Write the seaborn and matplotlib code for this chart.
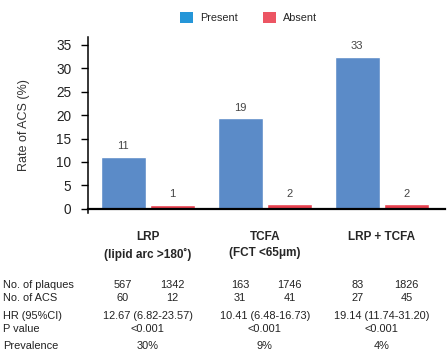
import numpy as np
import pandas as pd
import matplotlib
matplotlib.use("Agg")
import matplotlib.pyplot as plt
import matplotlib.transforms as mtransforms
from matplotlib.patches import Patch
import seaborn as sns

# values
groups = ["LRP", "TCFA", "LRP + TCFA"]
group_sub = ["(lipid arc >180˚)", "(FCT <65μm)", ""]
present = [11.1, 19.3, 32.5]
absent = [0.9, 1.0, 1.0]
present_lbl = ["11", "19", "33"]
absent_lbl = ["1", "2", "2"]

plaques_present = [567, 163, 83]
plaques_absent = [1342, 1746, 1826]
acs_present = [60, 31, 27]
acs_absent = [12, 41, 45]
hr = ["12.67 (6.82-23.57)", "10.41 (6.48-16.73)", "19.14 (11.74-31.20)"]
pval = ["<0.001", "<0.001", "<0.001"]
prevalence = ["30%", "9%", "4%"]

df = pd.DataFrame({
    "group": groups * 2,
    "status": ["Present"] * 3 + ["Absent"] * 3,
    "rate": present + absent,
})

sns.set_style("white")
plt.rcParams["font.family"] = ["Liberation Sans", "DejaVu Sans"]

bar_colors = {"Present": "#5b8bc8", "Absent": "#e8414f"}
legend_colors = {"Present": "#2596d8", "Absent": "#ec5563"}

fig = plt.figure(figsize=(4.47, 3.56), dpi=100)
ax = fig.add_axes([88 / 447, 1 - 213 / 356, 357 / 447, (213 - 37) / 356])

sns.barplot(data=df, x="group", y="rate", hue="status", palette=bar_colors,
            width=0.84, gap=0.08, saturation=1, legend=False, ax=ax)

ax.set_xlim(-0.51, 2.54)
ax.set_ylim(-0.9, 36.7)
ax.set_yticks(range(0, 36, 5))
ax.spines["bottom"].set_position(("data", 0))
ax.spines["bottom"].set_linewidth(1.6)
ax.spines["left"].set_linewidth(1.1)
for s in ["top", "right"]:
    ax.spines[s].set_visible(False)
for s in ["left", "bottom"]:
    ax.spines[s].set_color("black")

ax.tick_params(axis="y", length=5, width=1, color="black", labelsize=9.8, pad=7,
               left=True, labelcolor="#222")
ax.tick_params(axis="x", length=0, pad=16)
ax.set_xticks(range(len(groups)))
ax.set_xticklabels([g + ("\n" + s if s else "") for g, s in zip(groups, group_sub)],
                   fontsize=8.5, fontweight="bold", linespacing=1.45)
for t in ax.get_xticklabels():
    t.set_verticalalignment("top")
ax.set_xlabel("")
ax.set_ylabel("Rate of ACS (%)", fontsize=9, color="#333", labelpad=19)

ax.bar_label(ax.containers[0], labels=present_lbl, padding=4, fontsize=8, color="#444")
ax.bar_label(ax.containers[1], labels=absent_lbl, padding=4, fontsize=8, color="#444")

handles = [Patch(facecolor=legend_colors[k], edgecolor="none", label=k) for k in ["Present", "Absent"]]
fig.legend(handles=handles, loc="center", bbox_to_anchor=(0.556, 0.95), ncol=2, frameon=False,
           fontsize=7.8, handlelength=1.2, handleheight=1.2, handletextpad=0.7, columnspacing=2.3)

# table under the chart
tr = mtransforms.blended_transform_factory(ax.transData, fig.transFigure)
pres_x = [b.get_x() + b.get_width() / 2 for b in ax.containers[0]]
abs_x = [b.get_x() + b.get_width() / 2 for b in ax.containers[1]]
grp_x = [(a + b) / 2 for a, b in zip(pres_x, abs_x)]

row_y = {"No. of plaques": 285, "No. of ACS": 298, "HR (95%CI)": 316,
         "P value": 329, "Prevalence": 346}
tkw = dict(fontsize=7.9, color="#222", va="center")
for name, py in row_y.items():
    fig.text(3 / 447, 1 - py / 356, name, ha="left", **tkw)

def yy(name):
    return 1 - row_y[name] / 356

for i in range(3):
    fig.text(pres_x[i], yy("No. of plaques"), str(plaques_present[i]), ha="center", transform=tr, **tkw)
    fig.text(abs_x[i], yy("No. of plaques"), str(plaques_absent[i]), ha="center", transform=tr, **tkw)
    fig.text(pres_x[i], yy("No. of ACS"), str(acs_present[i]), ha="center", transform=tr, **tkw)
    fig.text(abs_x[i], yy("No. of ACS"), str(acs_absent[i]), ha="center", transform=tr, **tkw)
    fig.text(grp_x[i], yy("HR (95%CI)"), hr[i], ha="center", transform=tr, **tkw)
    fig.text(grp_x[i], yy("P value"), pval[i], ha="center", transform=tr, **tkw)
    fig.text(grp_x[i], yy("Prevalence"), prevalence[i], ha="center", transform=tr, **tkw)

fig.savefig("out.png", dpi=100)
